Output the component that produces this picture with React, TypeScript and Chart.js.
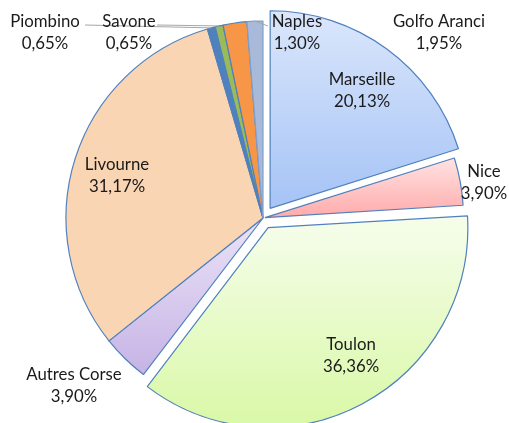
import React, { useEffect, useRef } from 'react';
import { Chart, registerables } from 'chart.js';

Chart.register(...registerables);

// ---- data ----
const categories = ['Marseille', 'Nice', 'Toulon', 'Autres Corse', 'Livourne', 'Piombino', 'Savone', 'Golfo Aranci', 'Naples'];
const shares = [20.13, 3.9, 36.36, 3.9, 31.17, 0.65, 0.65, 1.95, 1.3];

// ---- styles / layout ----
const W = 509;
const H = 423;
const RADIUS = 197;
const sliceOffsets = [48, 8, 44, 0, 0, 0, 0, 0, 0];
const gradientTops = ['#dde8fc', '#ffe3e3', '#f5fde9', '#ebe3f7', '#fad5b3', '#4f81bd', '#9bbb59', '#f79646', '#a8b9d9'];
const gradientBottoms = ['#a8c5f6', '#ffabab', '#d8f8a4', '#c6b3e5', '#fad5b3', '#4f81bd', '#9bbb59', '#f79646', '#a8b9d9'];
const borderColors = ['#4f81bd', '#4f81bd', '#4f81bd', '#4f81bd', '#4f81bd', '#4f81bd', '#4f81bd', '#4f81bd', '#7f9fce'];
// label block positions (center x, first-line center y)
const labelPos: [number, number][] = [
  [362, 80], [484, 172], [351, 345], [74, 375], [117, 165], [45, 22], [129, 22], [439, 22], [297, 22],
];
// leader line anchors (label side) for slices labelled outside
const leaderAnchors: ([number, number] | null)[] = [null, null, null, null, null, [85, 25], [157, 25], null, [268, 26]];

const FONT = '16.8px Lato, "Noto Sans", sans-serif';
const LINE_GAP = 21.5;

const fmt = (v: number) => v.toFixed(2).replace('.', ',') + '%';

function sliceGradient(chart: any, i: number) {
  const area = chart.chartArea;
  if (!area) return gradientTops[i];
  const cx = (area.left + area.right) / 2;
  const cy = (area.top + area.bottom) / 2;
  const total = shares.reduce((a, b) => a + b, 0);
  let cum = 0;
  for (let k = 0; k < i; k++) cum += shares[k];
  const a0 = -Math.PI / 2 + (cum / total) * Math.PI * 2;
  const a1 = a0 + (shares[i] / total) * Math.PI * 2;
  const mid = (a0 + a1) / 2;
  const dy = Math.sin(mid) * sliceOffsets[i] / 4;
  const ys = [cy, cy + RADIUS * Math.sin(a0), cy + RADIUS * Math.sin(a1)];
  const inRange = (a: number) => {
    for (let t = a - 2 * Math.PI * 2; t <= a + 2 * Math.PI * 2; t += 2 * Math.PI) {
      if (t >= a0 && t <= a1) return true;
    }
    return false;
  };
  if (inRange(-Math.PI / 2)) ys.push(cy - RADIUS);
  if (inRange(Math.PI / 2)) ys.push(cy + RADIUS);
  const top = Math.min(...ys) + dy;
  const bottom = Math.max(...ys) + dy;
  const g = chart.ctx.createLinearGradient(0, top, 0, bottom);
  g.addColorStop(0, gradientTops[i]);
  g.addColorStop(1, gradientBottoms[i]);
  return g;
}

const labelPlugin = {
  id: 'sliceLabels',
  afterDatasetsDraw(chart: any) {
    const ctx = chart.ctx;
    const meta = chart.getDatasetMeta(0);
    ctx.save();
    // leader lines
    ctx.strokeStyle = '#a6a6a6';
    ctx.lineWidth = 1;
    meta.data.forEach((arc: any, i: number) => {
      const anchor = leaderAnchors[i];
      if (!anchor) return;
      const mid = (arc.startAngle + arc.endAngle) / 2;
      const px = arc.x + Math.cos(mid) * arc.outerRadius;
      const py = arc.y + Math.sin(mid) * arc.outerRadius;
      ctx.beginPath();
      ctx.moveTo(anchor[0], anchor[1]);
      ctx.lineTo(px, py);
      ctx.stroke();
    });
    ctx.fillStyle = '#1a1a1a';
    ctx.font = FONT;
    ctx.textAlign = 'center';
    ctx.textBaseline = 'middle';
    categories.forEach((name, i) => {
      const [x, y] = labelPos[i];
      ctx.fillText(name, x, y);
      ctx.fillText(fmt(shares[i]), x, y + LINE_GAP);
    });
    ctx.restore();
  },
};

export default function App() {
  const ref = useRef<HTMLCanvasElement>(null);
  useEffect(() => {
    if (!ref.current) return;
    const chart = new Chart(ref.current, {
      type: 'pie',
      data: {
        labels: categories,
        datasets: [
          {
            data: shares,
            backgroundColor: (c: any) => sliceGradient(c.chart, c.dataIndex),
            borderColor: borderColors,
            borderWidth: 1.2,
            offset: sliceOffsets,
            radius: RADIUS,
            clip: false as any,
          } as any,
        ],
      },
      options: {
        responsive: false,
        animation: false,
        devicePixelRatio: 1,
        layout: { padding: { left: 17, right: 0, top: 13, bottom: 0 } },
        plugins: { legend: { display: false }, tooltip: { enabled: false } },
        events: [],
      },
      plugins: [labelPlugin],
    });
    return () => chart.destroy();
  }, []);
  return (
    <div style={{ position: 'fixed', left: 0, top: 0, width: W, height: H, background: '#fff' }}>
      <canvas ref={ref} width={W} height={H} style={{ width: W, height: H }} />
    </div>
  );
}
